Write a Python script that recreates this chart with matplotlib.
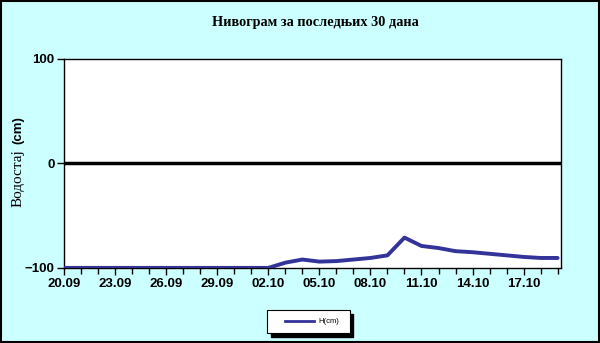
import matplotlib.pyplot as plt
from matplotlib.patches import Rectangle

# daily readings, 20.09 - 19.10
days = ["20.09", "21.09", "22.09", "23.09", "24.09", "25.09", "26.09", "27.09",
        "28.09", "29.09", "30.09", "01.10", "02.10", "03.10", "04.10", "05.10",
        "06.10", "07.10", "08.10", "09.10", "10.10", "11.10", "12.10", "13.10",
        "14.10", "15.10", "16.10", "17.10", "18.10", "19.10"]
level = [-100, -100, -100, -100, -100, -100, -100, -100, -100, -100,
         -100, -100, -100, -95, -92, -94, -93.5, -92, -90.5, -88,
         -71, -79, -81, -84, -85, -86.5, -88, -89.5, -90.5, -90.5]

x = list(range(len(days)))

fig = plt.figure(figsize=(6, 3.43), dpi=100, facecolor="#CCFFFF")
fig.patches.append(Rectangle((0.001, 0.002), 0.997, 0.995, transform=fig.transFigure,
                             fill=False, edgecolor="black", linewidth=1.5))

ax = fig.add_axes([0.107, 0.219, 0.828, 0.609])
ax.set_facecolor("white")

ax.axhline(0, color="black", linewidth=2.5, zorder=2)
ax.plot(x, level, color="#333399", linewidth=2.8, solid_joinstyle="round",
        solid_capstyle="round", label="H(cm)", zorder=3)

ax.set_xlim(0, 29.2)
ax.set_ylim(-100, 100)
ax.set_yticks([-100, 0, 100])
ax.set_xticks(x[::3])
ax.set_xticklabels(days[::3])
ax.set_xticks(x, minor=True)

for s in ax.spines.values():
    s.set_color("black")
    s.set_linewidth(1)

ax.tick_params(axis="both", which="major", direction="out", length=5, width=1,
               labelsize=9.5, pad=2)
ax.tick_params(axis="x", which="minor", direction="out", length=4, width=1)
for lab in ax.get_xticklabels() + ax.get_yticklabels():
    lab.set_fontfamily("Liberation Sans")
    lab.set_fontweight("bold")

fig.text(0.525, 0.935, "Нивограм за последњих 30 дана", ha="center", va="center",
         fontsize=10.3, fontweight="bold", family="Liberation Serif")

fig.text(0.03, 0.48, "Водостај", rotation=90, ha="center", va="center",
         fontsize=11, family="Liberation Serif")
fig.text(0.03, 0.622, "(cm)", rotation=90, ha="center", va="center",
         fontsize=9.5, fontweight="bold", family="Liberation Sans")

# legend box with shadow
lx, ly, lw, lh = 0.445, 0.03, 0.138, 0.067
fig.patches.append(Rectangle((lx + 0.006, ly - 0.012), lw, lh, transform=fig.transFigure,
                             facecolor="black", edgecolor="black"))
fig.patches.append(Rectangle((lx, ly), lw, lh, transform=fig.transFigure,
                             facecolor="white", edgecolor="black", linewidth=0.8))
fig.lines.append(plt.Line2D([lx + 0.03, lx + 0.078], [ly + lh / 2, ly + lh / 2],
                            transform=fig.transFigure, color="#333399", linewidth=2))
fig.text(lx + 0.085, ly + lh / 2, "H(cm)", ha="left", va="center", fontsize=5.5,
         family="Liberation Sans")

plt.savefig("out.png", dpi=100, facecolor=fig.get_facecolor())
